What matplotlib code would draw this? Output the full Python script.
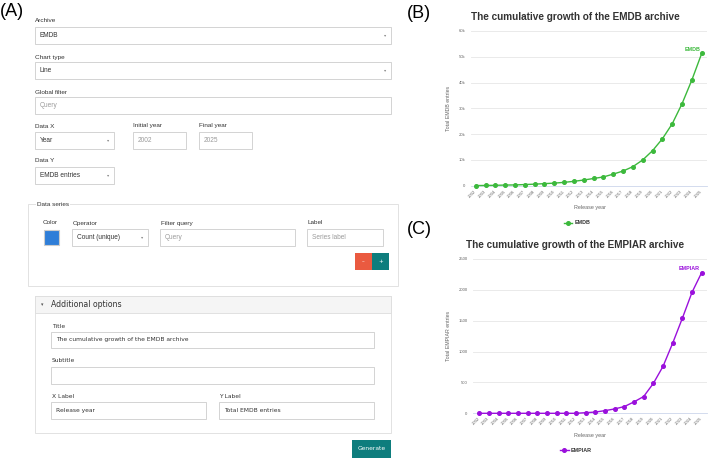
import matplotlib
matplotlib.use("Agg")
import matplotlib.pyplot as plt
from matplotlib.patches import Rectangle
from matplotlib.lines import Line2D
from matplotlib.ticker import FuncFormatter, FixedLocator

# ---------------- data ----------------
years = list(range(2002, 2026))
emdb_entries = [50, 100, 150, 250, 300, 450, 600, 800, 1000, 1300, 1700, 2200,
                2800, 3400, 4500, 5700, 7400, 10000, 13600, 18200, 24000, 31800,
                41000, 51300]
empiar_entries = [0, 0, 0, 0, 0, 0, 0, 0, 0, 0, 0, 10, 20, 43, 71, 109, 185,
                  272, 484, 760, 1136, 1540, 1960, 2280]
emdb_yticks = [0, 10000, 20000, 30000, 40000, 50000, 60000]
empiar_yticks = [0, 500, 1000, 1500, 2000, 2500]

W, H = 708, 459
fig = plt.figure(figsize=(W / 100, H / 100), dpi=100)
fig.patch.set_facecolor("white")

SANS = "Liberation Sans"
VERD = "DejaVu Sans"

# ---------------- UI panel (pixel coordinates) ----------------
ui = fig.add_axes([0, 0, 1, 1], zorder=0)
ui.set_xlim(0, W)
ui.set_ylim(H, 0)
ui.axis("off")


def box(x0, y0, x1, y1, fc="white", ec="#cccccc", lw=0.6, z=1):
    ui.add_patch(Rectangle((x0, y0), x1 - x0, y1 - y0, fc=fc, ec=ec, lw=lw, zorder=z))


def label(x, y, s, size=4.6, color="#333333", family=SANS, **kw):
    ui.text(x, y, s, fontsize=size, color=color, family=family, va="center",
            ha=kw.pop("ha", "left"), zorder=5, **kw)


def field(x0, y0, x1, y1, text=None, placeholder=None, caret=False,
          family=SANS, size=4.7):
    box(x0, y0, x1, y1)
    cy = (y0 + y1) / 2
    if text:
        label(x0 + 5, cy, text, size=size, family=family)
    if placeholder:
        label(x0 + 5, cy, placeholder, size=size, color="#9a9a9a", family=family)
    if caret:
        ui.text(x1 - 6, cy, "\u25be", fontsize=3.2, color="#888888",
                family="DejaVu Sans", ha="center", va="center", zorder=5)


ui.text(0, 12, "(A)", fontsize=13, family=SANS, va="center", ha="left")
ui.text(407, 13, "(B)", fontsize=13, family=SANS, va="center", ha="left")
ui.text(407, 230, "(C)", fontsize=13, family=SANS, va="center", ha="left")

label(35, 21, "Archive")
field(35, 27, 391, 44, text="EMDB", caret=True)
label(35, 57, "Chart type")
field(35, 62, 391, 79, text="Line", caret=True)
label(35, 92, "Global filter")
field(35, 97, 391, 114, placeholder="Query")
label(35, 126, "Data X")
label(133, 126, "Initial year")
label(199, 126, "Final year")
field(35, 132, 114, 149, text="Year", caret=True)
field(133, 132, 186, 149, placeholder="2002")
field(199, 132, 252, 149, placeholder="2025")
label(35, 161, "Data Y")
field(35, 167, 114, 184, text="EMDB entries", caret=True)

# Data series fieldset
box(28, 204, 398, 286, ec="#dddddd")
ui.text(37, 204, "Data series", fontsize=4.6, family=SANS, color="#333333",
        va="center", ha="left", zorder=5,
        bbox=dict(fc="white", ec="none", pad=0.6))
label(43, 223, "Color")
box(44, 230, 59, 245, fc="#2f7ed8", ec="#cccccc", lw=0.8)
label(73, 223, "Operator")
field(72, 229, 148, 246, text="Count (unique)", caret=True)
label(161, 223, "Filter query")
field(160, 229, 295, 246, placeholder="Query")
label(307, 223, "Label")
field(307, 229, 383, 246, placeholder="Series label")
box(355, 253, 372, 270, fc="#ea5a40", ec="none")
box(372, 253, 389, 270, fc="#0e7d7d", ec="none")
ui.text(363.5, 261.5, "\u2013", fontsize=4, color="white", ha="center", va="center", zorder=5)
ui.text(380.5, 261.5, "+", fontsize=4, color="white", ha="center", va="center", zorder=5)

# Additional options panel
box(35, 296, 391, 433, ec="#dddddd")
box(35, 296, 391, 313, fc="#f5f5f5", ec="#dddddd")
ui.text(42, 304.5, "\u25be", fontsize=3.5, color="#555555", family="DejaVu Sans",
        ha="center", va="center", zorder=5)
label(51, 304.5, "Additional options", size=5.6, family=VERD)
label(52, 326, "Title", size=4.3, family=VERD)
field(51, 332, 374, 348, text="The cumulative growth of the EMDB archive",
      family=VERD, size=4.3)
label(52, 361, "Subtitle", size=4.3, family=VERD)
field(51, 367, 374, 384)
label(52, 396, "X Label", size=4.3, family=VERD)
label(219, 396, "Y Label", size=4.3, family=VERD)
field(51, 402, 206, 419, text="Release year", family=VERD, size=4.3)
field(219, 402, 374, 419, text="Total EMDB entries", family=VERD, size=4.3)
box(352, 440, 391, 458, fc="#0e7d7d", ec="none")
ui.text(371.5, 449, "Generate", fontsize=4.3, color="white", family=VERD,
        ha="center", va="center", zorder=5)


# ---------------- charts ----------------
def fx(x):
    return x / W


def fy(y):
    return 1 - y / H


def kfmt(v, _):
    if v == 0:
        return "0"
    return f"{int(v / 1000)}k"


def make_chart(left, right, top, bottom, xlim, values, yticks, ymax, color,
               title, title_y, ylabel, ylabel_x, name, legend_x, legend_y,
               xlabel_y, ann_off, yfmt):
    ax = fig.add_axes([fx(left), fy(bottom), fx(right) - fx(left),
                       (bottom - top) / H], zorder=2)
    ax.set_facecolor("none")
    xs = list(range(len(years)))
    ax.plot(xs, values, color=color, lw=1.0, marker="o", ms=2.6,
            mec=color, mfc=color, zorder=3, clip_on=False)
    ax.set_xlim(*xlim)
    ax.set_ylim(0, ymax)
    ax.yaxis.set_major_locator(FixedLocator(yticks))
    ax.yaxis.set_major_formatter(FuncFormatter(yfmt))
    ax.grid(axis="y", color="#e6e6e6", lw=0.6)
    ax.set_axisbelow(True)
    for s in ["top", "right", "left"]:
        ax.spines[s].set_visible(False)
    ax.spines["bottom"].set_color("#ccd6eb")
    ax.spines["bottom"].set_linewidth(0.6)
    ax.set_xticks(xs)
    ax.set_xticklabels([str(y) for y in years], rotation=45, ha="right",
                       va="center", rotation_mode="anchor")
    ax.tick_params(axis="x", length=0, pad=3.5, labelsize=3.1,
                   labelcolor="#666666")
    ax.tick_params(axis="y", length=0, pad=4, labelsize=3.1,
                   labelcolor="#666666")
    for t in ax.get_xticklabels() + ax.get_yticklabels():
        t.set_family(SANS)
    fig.text(fx(575.5), fy(title_y), title, fontsize=7.2,
             fontweight="bold", color="#333333", family=SANS,
             ha="center", va="center")
    fig.text(fx(ylabel_x), fy((top + bottom) / 2), ylabel, fontsize=3.8,
             color="#666666", family=SANS, rotation=90, ha="center",
             va="center")
    fig.text(fx(590), fy(xlabel_y), "Release year", fontsize=3.9,
             color="#666666", family=SANS, ha="center", va="center")
    handle = Line2D([], [], color=color, lw=1.0, marker="o", ms=2.6)
    ax.legend([handle], [name], loc="center",
              bbox_to_anchor=(fx(legend_x), fy(legend_y)),
              bbox_transform=fig.transFigure, frameon=False,
              prop=dict(family=SANS, size=3.9, weight="bold"),
              handlelength=1.6, handletextpad=0.4, labelcolor="#333333")
    ax.annotate(name, (xs[-1], values[-1]), xytext=ann_off,
                textcoords="offset points", ha="center", va="center",
                fontsize=3.9, fontweight="bold", color=color, family=SANS)
    return ax


make_chart(471, 707, 31, 185.7, (-0.48, 23.54), emdb_entries, emdb_yticks,
           60000, "#3cb93c", "The cumulative growth of the EMDB archive", 17.5,
           "Total EMDB entries", 448, "EMDB", 577, 223, 208, (-6.6, 3.1), kfmt)

make_chart(473, 707, 259, 413.3, (-0.65, 23.55), empiar_entries,
           empiar_yticks, 2500, "#9a10dc",
           "The cumulative growth of the EMPIAR archive", 245,
           "Total EMPIAR entries", 449, "EMPIAR", 576, 450.7, 436,
           (-8.8, 2.7), lambda v, _: f"{int(v)}")

fig.savefig("out.png", dpi=100, facecolor="white")
